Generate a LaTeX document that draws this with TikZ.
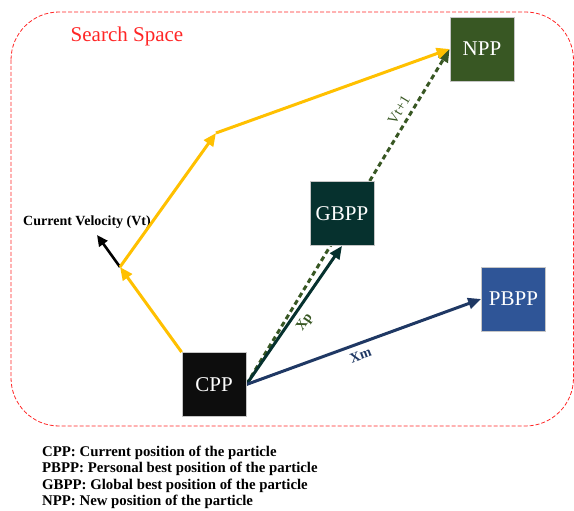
\documentclass[tikz,border=0pt]{standalone}
\usepackage{fontspec}
\setmainfont{Liberation Serif}
\usetikzlibrary{arrows.meta,positioning,calc}

\definecolor{nppgreen}{HTML}{385723}
\definecolor{gbppteal}{HTML}{06312E}
\definecolor{pbppblue}{HTML}{2F5597}
\definecolor{cppblack}{HTML}{0D0D0D}
\definecolor{velyellow}{HTML}{FFC000}
\definecolor{xmnavy}{HTML}{1F3864}
\definecolor{spacered}{HTML}{FF2626}

\tikzset{
  posbox/.style={draw=gray!45, line width=0.8pt, minimum size=64pt,
                 inner sep=0pt, text=white, font=\fontsize{21}{25}\selectfont},
  movearrow/.style={line width=3pt, -{Triangle[length=13pt,width=11pt]}},
  steplabel/.style={font=\bfseries\fontsize{14}{16}\selectfont},
  legendtext/.style={anchor=base west, inner sep=0pt,
                     font=\bfseries\fontsize{14.8}{16}\selectfont}
}

\begin{document}
\begin{tikzpicture}[x=1pt,y=-1pt]
\useasboundingbox (0,0) rectangle (574,511);

% The search space (dashed frame) and its title
\draw[spacered, dash pattern=on 4pt off 2pt, line width=0.8pt,
      rounded corners=48pt] (11,12) rectangle (573.5,426);
\node[spacered, font=\fontsize{21}{25}\selectfont] (title) at (127,36)
  {Search Space};

% Positions of the particle (centres of the boxes)
\coordinate (cppc)  at (214,384.5);
\coordinate (gbppc) at (342,213.5);
\coordinate (pbppc) at (513.5,299);
\coordinate (nppc)  at (482,49);

% Bends of the velocity path
\coordinate (v1) at (120,267);
\coordinate (v2) at (216,133);
\coordinate (vt) at (97,235);

% The boxes are placed first (empty) so that arrows can use their borders
\path (cppc)  node[posbox, draw=none] (cpp)  {}
      (gbppc) node[posbox, draw=none] (gbpp) {}
      (pbppc) node[posbox, draw=none] (pbpp) {}
      (nppc)  node[posbox, draw=none] (npp)  {};

% New velocity, dashed, goes behind GBPP
\draw[movearrow, nppgreen, dash pattern=on 5pt off 3.5pt]
  (cpp.east) -- (npp.west)
  node[pos=0.8, sloped, above=2pt, font=\fontsize{14.5}{16}\selectfont] (vnext) {Vt+1};

% Current velocity
\draw[movearrow, black, line width=2.6pt, -{Triangle[length=11pt,width=10pt]}]
  (v1) -- (vt);
\node[steplabel] (vlabel) at (87,222) {Current Velocity (Vt)};

% Yellow velocity path
\draw[movearrow, velyellow] (cpp.north west) -- (v1);
\draw[movearrow, velyellow] (v1) -- (v2);
\draw[movearrow, velyellow] (v2) -- (npp.west);

% Moves towards the best positions
\draw[movearrow, gbppteal] (cpp.east) -- (gbpp.south)
  node[pos=0.5, sloped, below=2pt, steplabel, text=nppgreen] (xp) {Xp};
\draw[movearrow, xmnavy] (cpp.east) -- (pbpp.west)
  node[pos=0.47, sloped, below=2pt, steplabel] (xm) {Xm};

% Painting the boxes on top
\node[posbox, fill=cppblack]  at (cppc)  {CPP};
\node[posbox, fill=gbppteal]  at (gbppc) {GBPP};
\node[posbox, fill=pbppblue]  at (pbppc) {PBPP};
\node[posbox, fill=nppgreen]  at (nppc)  {NPP};

% Legend
\node[legendtext] (leg1) at (42,456)   {CPP: Current position of the particle};
\node[legendtext] (leg2) at (42,472.5) {PBPP: Personal best position of the particle};
\node[legendtext] (leg3) at (42,489)   {GBPP: Global best position of the particle};
\node[legendtext] (leg4) at (42,505.5) {NPP: New position of the particle};
\end{tikzpicture}
\end{document}
